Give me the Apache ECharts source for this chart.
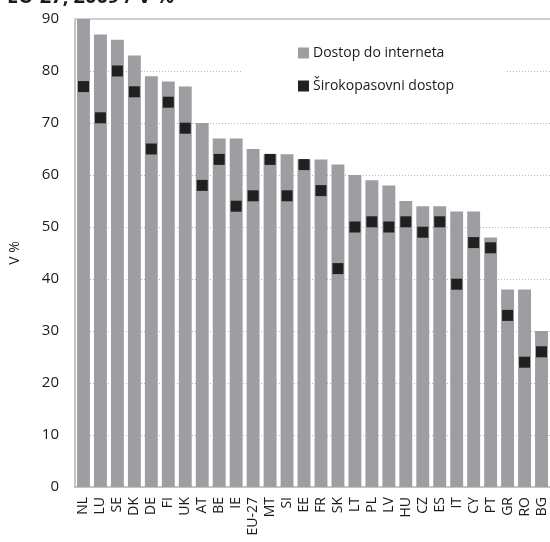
<!DOCTYPE html>
<html>
<head>
<meta charset="utf-8">
<script src="https://cdn.jsdelivr.net/npm/echarts@6/dist/echarts.min.js"></script>
<style>html,body{margin:0;padding:0;background:#fff}#c{width:550px;height:542px}</style>
</head>
<body>
<div id="c"></div>
<script>
const categories = ['NL','LU','SE','DK','DE','FI','UK','AT','BE','IE','EU-27','MT','SI','EE','FR','SK','LT','PL','LV','HU','CZ','ES','IT','CY','PT','GR','RO','BG'];
const internetAccess = [90,87,86,83,79,78,77,70,67,67,65,64,64,63,63,62,60,59,58,55,54,54,53,53,48,38,38,30];
const broadbandAccess = [77,71,80,76,65,74,69,58,63,54,56,63,56,62,57,42,50,51,50,51,49,51,39,47,46,33,24,26];
const yTicks = [0,10,20,30,40,50,60,70,80,90];

const FONT = '"Open Sans", "Noto Sans", sans-serif';
const chart = echarts.init(document.getElementById('c'), null, {renderer: 'canvas'});
chart.setOption({
  animation: false,
  backgroundColor: '#ffffff',
  title: {
    text: 'EU-27, 2009 / V %',
    left: 2, top: -18,
    textStyle: {fontFamily: FONT, fontSize: 20, fontWeight: 'bold', color: '#1a1a1a'}
  },
  legend: {
    orient: 'vertical',
    left: 242, top: 38,
    padding: [8, 52, 8, 56],
    backgroundColor: '#ffffff',
    itemWidth: 11, itemHeight: 11, itemGap: 19,
    textStyle: {fontFamily: FONT, fontSize: 14, color: '#1a1a1a', padding: [0,0,0,-1]},
    data: [
      {name: 'Dostop do interneta', icon: 'rect'},
      {name: 'Širokopasovni dostop', icon: 'rect'}
    ]
  },
  grid: {left: 71, right: -2, top: 19, bottom: 55, containLabel: false},
  xAxis: [{
    type: 'category',
    data: categories,
    axisLine: {show: true, lineStyle: {color: '#c4c4c4', width: 2}},
    axisTick: {show: false},
    axisLabel: {rotate: 90, fontFamily: FONT, fontSize: 14, color: '#1a1a1a', margin: 10, interval: 0}
  }, {
    type: 'category',
    position: 'top',
    data: categories,
    axisLine: {show: true, lineStyle: {color: '#d0d0d0', width: 2}},
    axisTick: {show: false},
    axisLabel: {show: false}
  }],
  yAxis: {
    type: 'value',
    min: yTicks[0], max: yTicks[yTicks.length - 1], interval: 10,
    name: 'V %',
    nameLocation: 'middle',
    nameGap: 53,
    nameTextStyle: {fontFamily: FONT, fontSize: 14, color: '#1a1a1a'},
    axisLine: {show: true, lineStyle: {color: '#c4c4c4', width: 2}},
    axisTick: {show: false},
    axisLabel: {fontFamily: FONT, fontSize: 15, color: '#1a1a1a', margin: 16},
    splitLine: {show: true, lineStyle: {color: '#b8b8b8', type: [1, 2], width: 1}}
  },
  series: [{
    name: 'Dostop do interneta',
    type: 'bar',
    data: internetAccess,
    barCategoryGap: '24%',
    itemStyle: {color: '#9c9ea1'},
    z: 2
  }, {
    name: 'Širokopasovni dostop',
    type: 'scatter',
    data: broadbandAccess,
    symbol: 'rect',
    symbolSize: 11,
    itemStyle: {color: '#231f20', opacity: 1},
    z: 3
  }]
});
</script>
</body>
</html>
